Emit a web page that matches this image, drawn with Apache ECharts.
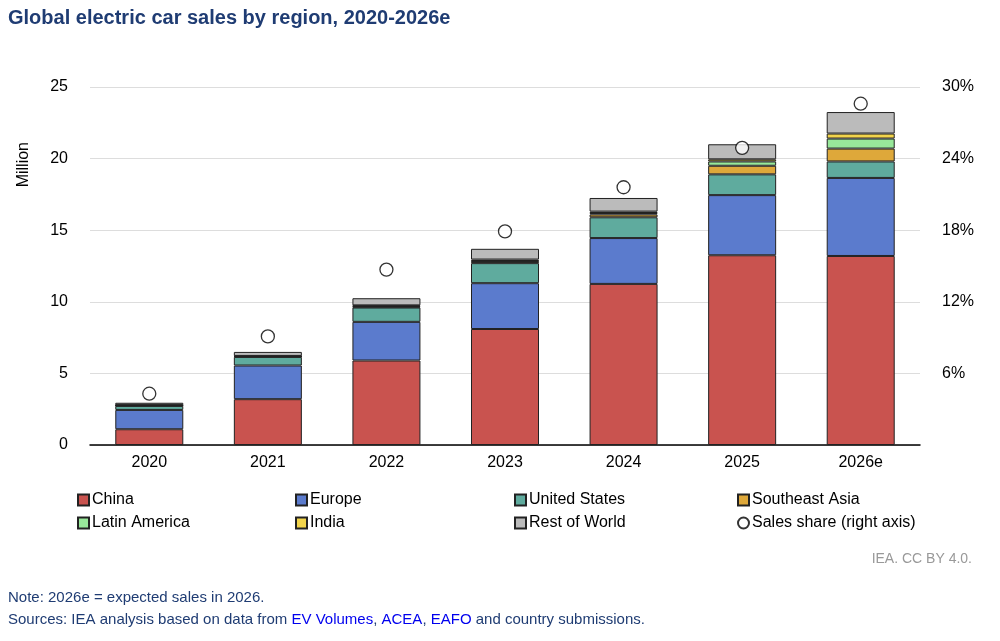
<!DOCTYPE html><html><head><meta charset="utf-8"><script src="https://cdn.jsdelivr.net/npm/echarts@6/dist/echarts.min.js"></script>
<style>body{margin:0;font-family:Arial,"Liberation Sans",sans-serif}#c{width:1000px;height:641px}</style></head><body><div id="c"></div><script>
const years=['2020','2021','2022','2023','2024','2025','2026e'];
const china=[1.1,3.2,5.9,8.1,11.25,13.25,13.2];
const europe=[1.35,2.35,2.7,3.2,3.2,4.2,5.45];
const us=[0.28,0.6,1.0,1.4,1.45,1.45,1.15];
const sea=[0.03,0.03,0.05,0.1,0.2,0.6,0.9];
const latam=[0.02,0.02,0.05,0.05,0.1,0.3,0.7];
const india=[0.02,0.02,0.05,0.1,0.1,0.15,0.35];
const row=[0.15,0.28,0.5,0.75,0.95,1.05,1.5];
const share=[4.3,9.1,14.7,17.9,21.6,24.9,28.6];
const names=['China','Europe','United States','Southeast Asia','Latin America','India','Rest of World','Sales share (right axis)'];
const F='Arial, "Liberation Sans", sans-serif';
const mk=(n,d,c)=>({name:n,type:'bar',stack:'s',data:d,barWidth:68,itemStyle:{color:c,borderColor:'#222',borderWidth:1}});
const colX=[72,290,509,732],rowY=[487,510];
const legends=names.map((n,i)=>({left:colX[i%4],top:rowY[Math.floor(i/4)],itemGap:0,itemWidth:11,itemHeight:11,
 textStyle:{fontSize:16,color:'#000',padding:[0,0,0,-2]},data:[i==7?{name:n,icon:'circle'}:{name:n,icon:'rect'}]}));
const ch=echarts.init(document.getElementById('c'));
ch.setOption({animation:false,textStyle:{fontFamily:F},
graphic:[{type:'text',left:8,top:8,style:{text:'Global electric car sales by region, 2020-2026e',font:'bold 20px '+F,fill:'#1f3c73'}},
{type:'text',left:16,top:142,rotation:Math.PI/2,style:{text:'Million',font:'16px '+F,fill:'#000'}},
{type:'text',right:28,top:552,style:{text:'IEA. CC BY 4.0.',font:'14px '+F,fill:'#999'}},
{type:'text',left:8,top:590,style:{text:'Note: 2026e = expected sales in 2026.',font:'15px '+F,fill:'#1f3c73'}},
{type:'text',left:8,top:612,style:{text:'Sources: IEA analysis based on data from {l|EV Volumes}, {l|ACEA}, {l|EAFO} and country submissions.',font:'15px '+F,fill:'#1f3c73',rich:{l:{fill:'#0000ee',font:'15px '+F}}}}],
grid:{left:90,right:80,top:87,bottom:196},
legend:legends,
xAxis:{type:'category',data:years,axisTick:{show:false},axisLine:{lineStyle:{color:'#000',width:1.5}},axisLabel:{fontSize:16,color:'#000',margin:10}},
yAxis:[{type:'value',min:0,max:25,interval:5,axisLabel:{fontSize:16,color:'#000',margin:22},splitLine:{lineStyle:{color:'#ddd'}}},
{type:'value',min:0,max:30,interval:6,axisLabel:{fontSize:16,color:'#000',margin:22,formatter:v=>v?v+'%':''},splitLine:{show:false}}],
series:[mk('China',china,'#c9534f'),mk('Europe',europe,'#5b7bcd'),mk('United States',us,'#5fab9e'),mk('Southeast Asia',sea,'#dea83a'),mk('Latin America',latam,'#98e89a'),mk('India',india,'#f2d44b'),mk('Rest of World',row,'#bbbbbb'),
{name:'Sales share (right axis)',type:'scatter',yAxisIndex:1,data:share,symbolSize:13,itemStyle:{color:'#fff',borderColor:'#000',borderWidth:1.3}}]});
</script></body></html>
